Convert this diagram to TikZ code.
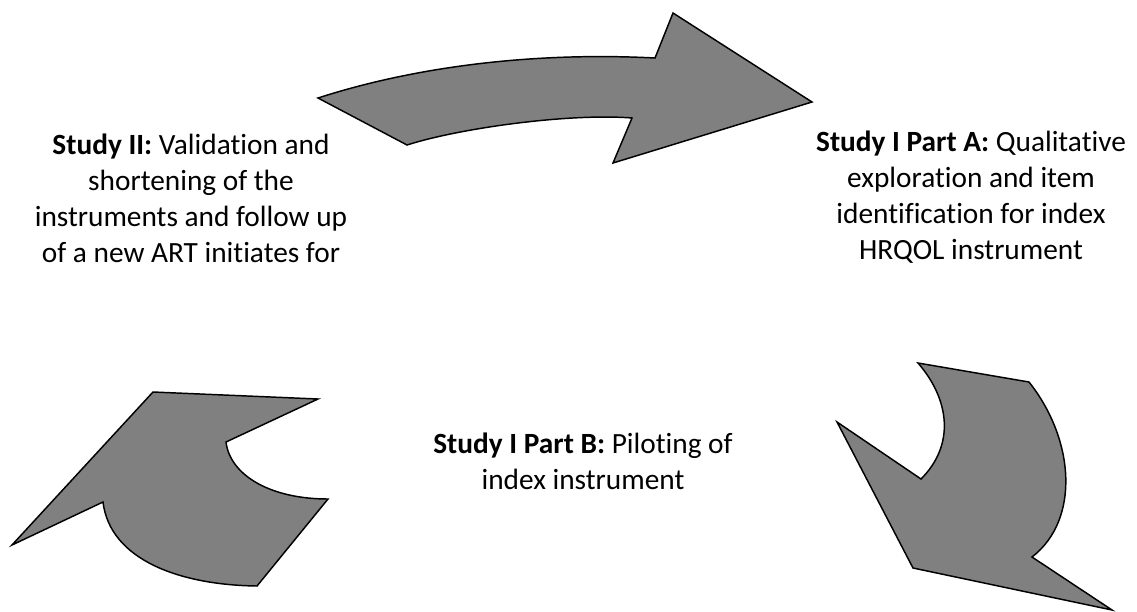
\documentclass[tikz,border=0pt]{standalone}
\usepackage{fontspec}
\setmainfont{Carlito}[Ligatures=NoCommon]
\tikzset{
	bigarrow/.style={fill=black!50, draw=black, line width=1.1pt},
	studytext/.style={align=center, inner sep=0pt, font=\fontsize{22}{27}\selectfont}
}
\begin{document}
\begin{tikzpicture}[x=0.75pt,y=-0.75pt]
	\useasboundingbox (0,0) rectangle (1137,611);
	% top arrow
	\draw[bigarrow] (318,98) .. controls (420,65) and (540,52) .. (655,58) -- (673,13) -- (812,102) -- (613,163) -- (632,118) .. controls (570,113) and (460,128) .. (407,145) -- cycle;
	% right arrow
	\draw[bigarrow] (918,363) -- (1029,382) .. controls (1075,440) and (1080,520) .. (1032,557) -- (1112,610) -- (913,568) -- (837,422) -- (921,479) .. controls (955,445) and (950,400) .. (918,363) -- cycle;
	% left arrow
	\draw[bigarrow] (153,392) -- (318,399) -- (226,442) .. controls (230,475) and (270,499) .. (328,499) -- (257,586) .. controls (180,585) and (110,560) .. (103,502) -- (12,545) -- cycle;
	\node[studytext] (studyII) at (191,198) {\textbf{Study II:} Validation and\\shortening of the\\instruments and follow up\\of a new ART initiates for};
	\node[studytext] (studyIA) at (971,197) {\textbf{Study I Part A:} Qualitative\\exploration and item\\identification for index\\HRQOL instrument};
	\node[studytext] (studyIB) at (583,461) {\textbf{Study I Part B:} Piloting of\\index instrument};
\end{tikzpicture}
\end{document}
